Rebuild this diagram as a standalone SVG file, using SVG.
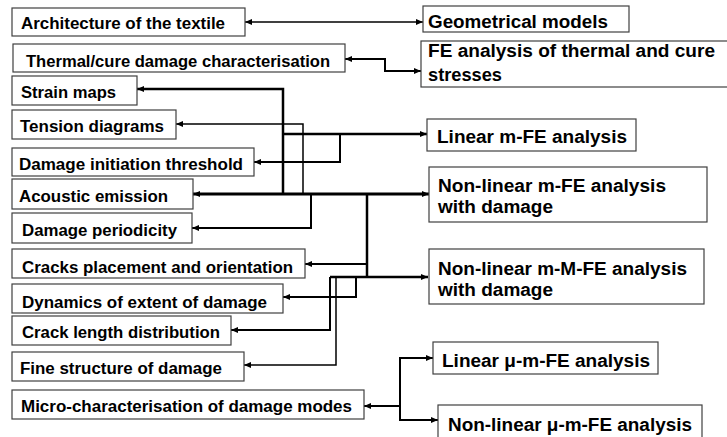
<svg xmlns="http://www.w3.org/2000/svg" width="727" height="437" viewBox="0 0 727 437">
<style>
rect.box{fill:#fff;stroke:#404040;stroke-width:1.2}
text{font-family:"Liberation Sans",Arial,sans-serif;font-weight:bold;fill:#000}
text.l{font-size:16px}
text.r{font-size:18px}
#connectors path{fill:none;stroke:#000;stroke-width:2;stroke-linejoin:miter}
</style>
<defs>
<marker id="ah" markerUnits="userSpaceOnUse" markerWidth="8" markerHeight="8" refX="7" refY="4" orient="auto-start-reverse">
<path d="M0,1 L7,4 L0,7 z" fill="#000"/>
</marker>
</defs>
<rect width="727" height="437" fill="#fff"/>
<g id="connectors">
<path d="M245,22 H423" marker-start="url(#ah)" marker-end="url(#ah)" style="stroke-width:1.5"/>
<path d="M345,59 H385 V71 H421" marker-start="url(#ah)" marker-end="url(#ah)"/>
<path d="M283,194 V89 H137" marker-end="url(#ah)" style="stroke-width:2.5"/>
<path d="M303,194 V124 H176" marker-end="url(#ah)" style="stroke-width:1.5"/>
<path d="M283,134 H427" marker-end="url(#ah)" style="stroke-width:2.5"/>
<path d="M340,134 V162 H254" marker-end="url(#ah)"/>
<path d="M193,194 H429" marker-start="url(#ah)" marker-end="url(#ah)" style="stroke-width:3"/>
<path d="M311,194 V228 H192" marker-end="url(#ah)"/>
<path d="M367,194 V277" style="stroke-width:2.5"/>
<path d="M367,264 H305" marker-end="url(#ah)"/>
<path d="M330,277 H428" marker-end="url(#ah)" style="stroke-width:2.5"/>
<path d="M356,277 V297 H283" marker-end="url(#ah)"/>
<path d="M330,277 V330 H231" marker-end="url(#ah)"/>
<path d="M336,277 V365 H244" marker-end="url(#ah)" style="stroke-width:1.5"/>
<path d="M400,406 H364" marker-end="url(#ah)"/>
<path d="M433,358 H400 V420 H438" marker-start="url(#ah)" marker-end="url(#ah)"/>
</g>
<g id="n-architecture"><rect class="box" x="12" y="8" width="233" height="28"/><text class="l" x="21" y="29" textLength="204" lengthAdjust="spacingAndGlyphs">Architecture of the textile</text></g>
<g id="n-thermal"><rect class="box" x="13" y="44" width="332" height="28"/><text class="l" x="26" y="67" textLength="304" lengthAdjust="spacingAndGlyphs">Thermal/cure damage characterisation</text></g>
<g id="n-strain"><rect class="box" x="12" y="76" width="125" height="29"/><text class="l" x="21" y="98" textLength="95" lengthAdjust="spacingAndGlyphs">Strain maps</text></g>
<g id="n-tension"><rect class="box" x="12" y="110" width="164" height="29"/><text class="l" x="20" y="132" textLength="144" lengthAdjust="spacingAndGlyphs">Tension diagrams</text></g>
<g id="n-threshold"><rect class="box" x="12" y="148" width="242" height="28"/><text class="l" x="19" y="170" textLength="224" lengthAdjust="spacingAndGlyphs">Damage initiation threshold</text></g>
<g id="n-acoustic"><rect class="box" x="12" y="179" width="181" height="30"/><text class="l" x="19" y="202" textLength="149" lengthAdjust="spacingAndGlyphs">Acoustic emission</text></g>
<g id="n-periodicity"><rect class="box" x="12" y="213" width="180" height="30"/><text class="l" x="22" y="236" textLength="155" lengthAdjust="spacingAndGlyphs">Damage periodicity</text></g>
<g id="n-cracks"><rect class="box" x="12" y="249" width="293" height="29"/><text class="l" x="22" y="273" textLength="271" lengthAdjust="spacingAndGlyphs">Cracks placement and orientation</text></g>
<g id="n-dynamics"><rect class="box" x="12" y="284" width="271" height="29"/><text class="l" x="22" y="308" textLength="245" lengthAdjust="spacingAndGlyphs">Dynamics of extent of damage</text></g>
<g id="n-cracklength"><rect class="box" x="12" y="316" width="219" height="29"/><text class="l" x="22" y="338" textLength="198" lengthAdjust="spacingAndGlyphs">Crack length distribution</text></g>
<g id="n-fine"><rect class="box" x="12" y="352" width="232" height="29"/><text class="l" x="20" y="374" textLength="202" lengthAdjust="spacingAndGlyphs">Fine structure of damage</text></g>
<g id="n-micro"><rect class="box" x="12" y="390" width="352" height="29"/><text class="l" x="21" y="412" textLength="331" lengthAdjust="spacingAndGlyphs">Micro-characterisation of damage modes</text></g>
<g id="n-geometrical"><rect class="box" x="423" y="6" width="206" height="26"/><text class="r" x="428" y="28" textLength="180" lengthAdjust="spacingAndGlyphs">Geometrical models</text></g>
<g id="n-fe-thermal"><rect class="box" x="421" y="41" width="310" height="46"/><text class="r" x="428" y="57" textLength="287" lengthAdjust="spacingAndGlyphs">FE analysis of thermal and cure</text><text class="r" x="428" y="81" textLength="74" lengthAdjust="spacingAndGlyphs">stresses</text></g>
<g id="n-linear"><rect class="box" x="427" y="119" width="209" height="32"/><text class="r" x="437" y="143" textLength="190" lengthAdjust="spacingAndGlyphs">Linear m-FE analysis</text></g>
<g id="n-nonlinear"><rect class="box" x="429" y="167" width="278" height="55"/><text class="r" x="438" y="192" textLength="228" lengthAdjust="spacingAndGlyphs">Non-linear m-FE analysis</text><text class="r" x="438" y="213" textLength="115" lengthAdjust="spacingAndGlyphs">with damage</text></g>
<g id="n-nonlinear-mm"><rect class="box" x="429" y="249" width="275" height="55"/><text class="r" x="438" y="275" textLength="249" lengthAdjust="spacingAndGlyphs">Non-linear m-M-FE analysis</text><text class="r" x="438" y="296" textLength="115" lengthAdjust="spacingAndGlyphs">with damage</text></g>
<g id="n-linear-mu"><rect class="box" x="433" y="342" width="225" height="32"/><text class="r" x="442" y="367" textLength="208" lengthAdjust="spacingAndGlyphs">Linear μ-m-FE analysis</text></g>
<g id="n-nonlinear-mu"><rect class="box" x="438" y="405" width="264" height="40"/><text class="r" x="448" y="431" textLength="244" lengthAdjust="spacingAndGlyphs">Non-linear μ-m-FE analysis</text></g>
</svg>
